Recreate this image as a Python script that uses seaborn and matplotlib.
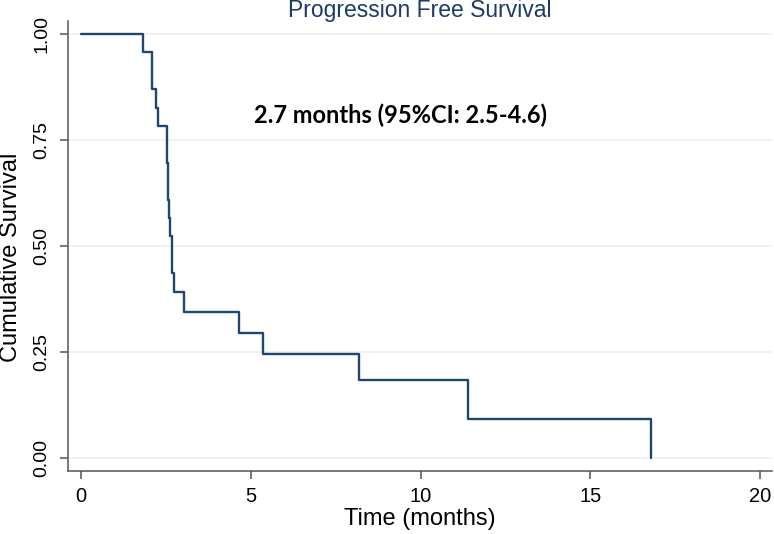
import matplotlib
matplotlib.use("Agg")
import matplotlib.pyplot as plt
import seaborn as sns
import pandas as pd

# Kaplan-Meier steps
months = [0.0, 1.83, 2.10, 2.22, 2.26, 2.54, 2.57, 2.60, 2.63, 2.68, 2.75,
          3.04, 4.65, 5.36, 8.18, 11.41, 16.8]
survival = [1.0, 0.957, 0.870, 0.826, 0.783, 0.696, 0.609, 0.565, 0.522,
            0.435, 0.391, 0.343, 0.293, 0.245, 0.182, 0.092, 0.0]

x_ticks = [0, 5, 10, 15, 20]
y_ticks = [0.0, 0.25, 0.50, 0.75, 1.0]
y_tick_labels = ["0.00", "0.25", "0.50", "0.75", "1.00"]

title = "Progression Free Survival"
note = "2.7 months (95%CI: 2.5-4.6)"

df = pd.DataFrame({"Time (months)": months, "Cumulative Survival": survival})

sns.set_theme(style="white")
plt.rcParams["font.family"] = ["Liberation Sans", "DejaVu Sans"]

fig = plt.figure(figsize=(7.74, 5.34), dpi=100)
ax = fig.add_axes([68 / 774, (534 - 470.7) / 534, (772 - 68) / 774, 450 / 534])

line_col = "#1f4670"
sns.lineplot(data=df, x="Time (months)", y="Cumulative Survival", ax=ax,
             drawstyle="steps-post", color=line_col, linewidth=1.7, sort=False)

ax.set_xlim(-0.38, 20.35)
ax.set_ylim(-0.031, 1.031)
ax.set_xticks(x_ticks)
ax.set_yticks(y_ticks)
ax.set_yticklabels(y_tick_labels, rotation=90, va="center")

# light horizontal grid, Stata style
ax.yaxis.grid(True, color="#eaf0f0", linewidth=1.2)
ax.xaxis.grid(False)
ax.set_axisbelow(True)

for side in ["top", "right"]:
    ax.spines[side].set_visible(False)
for side in ["left", "bottom"]:
    ax.spines[side].set_color("#555555")
    ax.spines[side].set_linewidth(1.1)

ax.tick_params(axis="x", length=5.5, width=1.1, color="#555555", pad=6,
               labelsize=14.5, labelcolor="black", bottom=True)
ax.tick_params(axis="y", length=5.8, width=1.1, color="#555555", pad=7,
               labelsize=14, labelcolor="black", left=True)

ax.set_xlabel("Time (months)", fontsize=17, color="black", labelpad=2)
ax.set_ylabel("Cumulative Survival", fontsize=17, color="black")
ax.yaxis.set_label_coords(-0.066, 0.475)

fig.text(420 / 774, (534 - 17) / 534, title, ha="center", va="baseline",
         fontsize=16.5, color="#1e3a66")

ax.text(9.41, 0.79, note, ha="center", va="baseline", fontsize=17,
        fontweight="bold", color="black", family=["Lato", "DejaVu Sans"])

fig.savefig("out.png", dpi=100)
